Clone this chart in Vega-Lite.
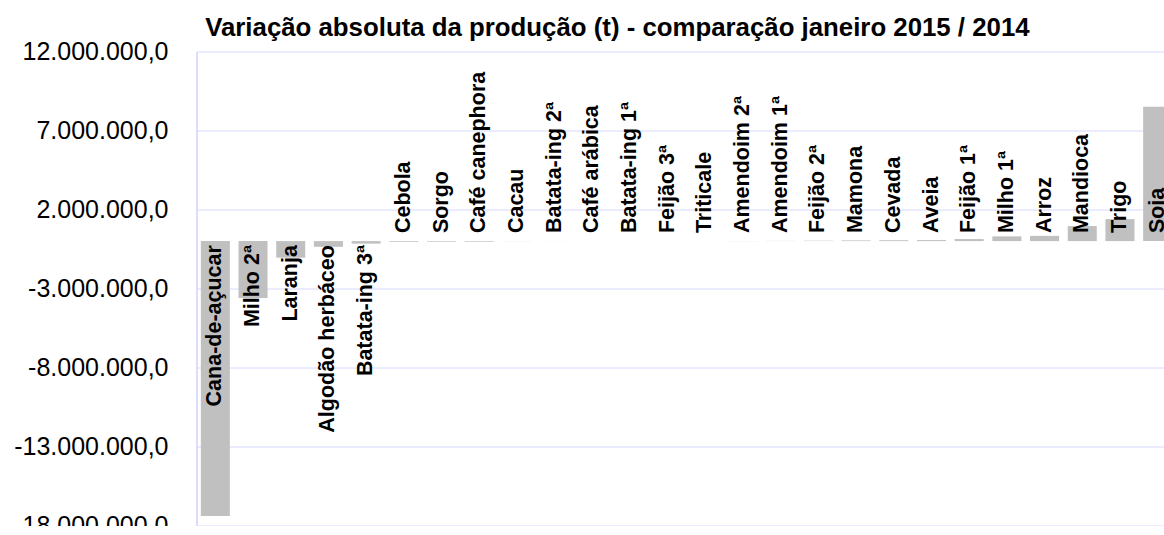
{
  "$schema": "https://vega.github.io/schema/vega-lite/v6.json",
  "autosize": {"type": "none"},
  "padding": {"left": 196.5, "top": 51.5, "right": 0, "bottom": 0},
  "width": 967.5,
  "height": 474,
  "title": {
    "text": "Variação absoluta da produção (t) - comparação janeiro 2015 / 2014",
    "anchor": "start",
    "dx": 191.5,
    "dy": 39,
    "offset": 16.5,
    "baseline": "alphabetic",
    "font": "Liberation Sans",
    "fontSize": 25.8,
    "fontWeight": "bold",
    "color": "#000000"
  },
  "data": {
    "values": [
      {"cultura": "Cana-de-açucar", "variacao": -17400000},
      {"cultura": "Milho 2ª", "variacao": -3600000},
      {"cultura": "Laranja", "variacao": -1050000},
      {"cultura": "Algodão herbáceo", "variacao": -360000},
      {"cultura": "Batata-ing 3ª", "variacao": -160000},
      {"cultura": "Cebola", "variacao": -45000},
      {"cultura": "Sorgo", "variacao": -42000},
      {"cultura": "Café canephora", "variacao": -40000},
      {"cultura": "Cacau", "variacao": -6000},
      {"cultura": "Batata-ing 2ª", "variacao": -3000},
      {"cultura": "Café arábica", "variacao": -1000},
      {"cultura": "Batata-ing 1ª", "variacao": 500},
      {"cultura": "Feijão 3ª", "variacao": 1500},
      {"cultura": "Triticale", "variacao": 3000},
      {"cultura": "Amendoim 2ª", "variacao": 6000},
      {"cultura": "Amendoim 1ª", "variacao": 12000},
      {"cultura": "Feijão 2ª", "variacao": 25000},
      {"cultura": "Mamona", "variacao": 45000},
      {"cultura": "Cevada", "variacao": 55000},
      {"cultura": "Aveia", "variacao": 65000},
      {"cultura": "Feijão 1ª", "variacao": 130000},
      {"cultura": "Milho 1ª", "variacao": 300000},
      {"cultura": "Arroz", "variacao": 330000},
      {"cultura": "Mandioca", "variacao": 950000},
      {"cultura": "Trigo", "variacao": 1390000},
      {"cultura": "Soja", "variacao": 8500000}
    ]
  },
  "encoding": {
    "x": {
      "field": "cultura",
      "type": "nominal",
      "sort": null,
      "axis": null,
      "scale": {"range": [0, 980], "paddingInner": 0.23, "paddingOuter": 0.115}
    }
  },
  "layer": [
    {
      "mark": {"type": "bar", "color": "#c0c0c0"},
      "encoding": {
        "y": {
          "field": "variacao",
          "type": "quantitative",
          "scale": {"domain": [-18000000, 12000000], "nice": false, "zero": false},
          "axis": {
            "title": null,
            "values": [-18000000, -13000000, -8000000, -3000000, 2000000, 7000000, 12000000],
            "format": ",.1f",
            "ticks": false,
            "labelPadding": 28.5,
            "labelFont": "Liberation Sans",
            "labelFontSize": 25,
            "labelColor": "#000000",
            "labelBaseline": "middle",
            "domainColor": "#d0d0ff",
            "domainWidth": 1.5,
            "gridColor": "#d8d8ff",
            "gridWidth": 1,
            "gridOpacity": 1
          }
        }
      }
    },
    {
      "mark": {"type": "rule", "color": "#000000", "strokeWidth": 1.5},
      "encoding": {"y": {"datum": 0}}
    },
    {
      "transform": [{"filter": "datum.variacao >= -100000"}],
      "mark": {
        "type": "text",
        "angle": 270,
        "align": "left",
        "baseline": "middle",
        "dx": 8,
        "font": "Liberation Sans",
        "fontSize": 21.5,
        "fontWeight": "bold",
        "color": "#000000"
      },
      "encoding": {
        "y": {"datum": 0},
        "text": {"field": "cultura"}
      }
    },
    {
      "transform": [{"filter": "datum.variacao < -100000"}],
      "mark": {
        "type": "text",
        "angle": 270,
        "align": "right",
        "baseline": "middle",
        "dx": -4,
        "font": "Liberation Sans",
        "fontSize": 21.5,
        "fontWeight": "bold",
        "color": "#000000"
      },
      "encoding": {
        "y": {"datum": 0},
        "text": {"field": "cultura"}
      }
    }
  ],
  "config": {
    "view": {"stroke": null},
    "locale": {
      "number": {
        "decimal": ",",
        "thousands": ".",
        "grouping": [3],
        "currency": ["R$", ""],
        "minus": "-"
      }
    }
  }
}
